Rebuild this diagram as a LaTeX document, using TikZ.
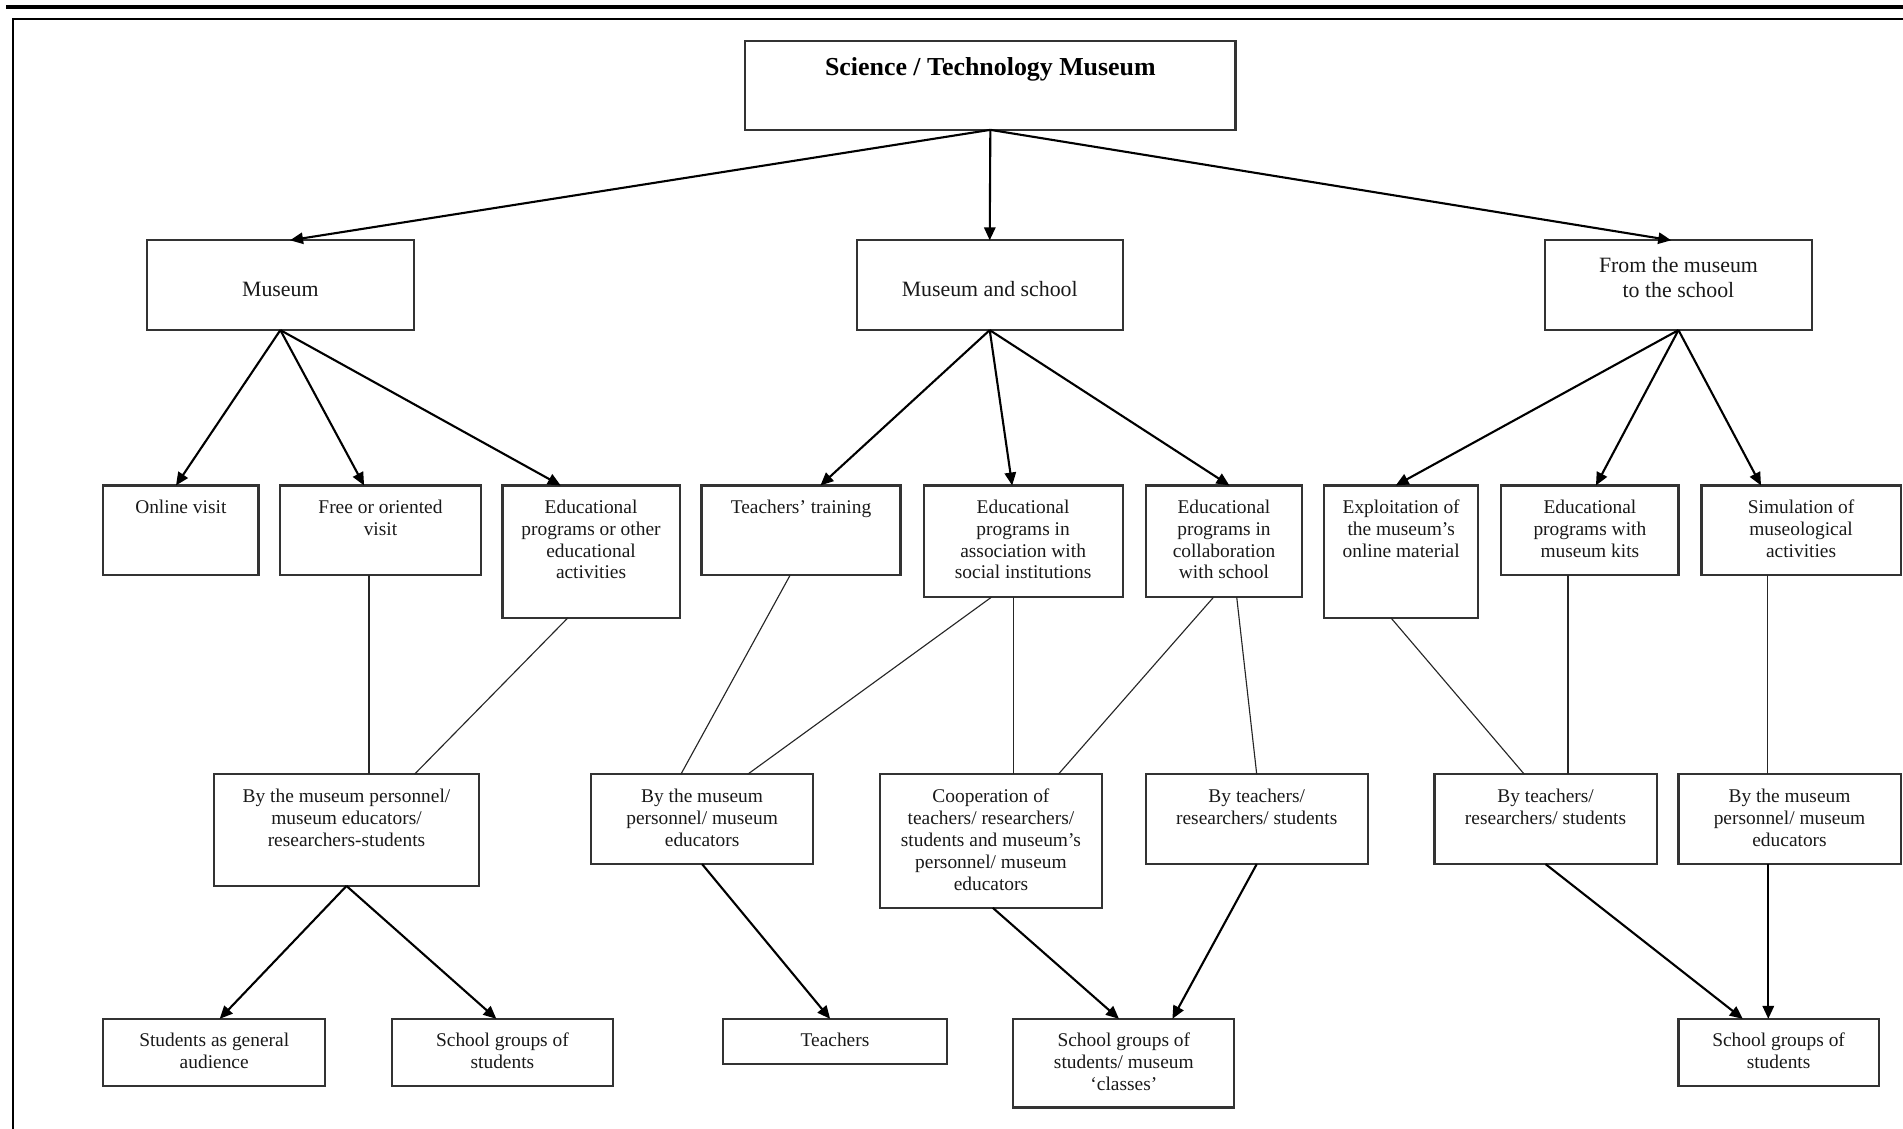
\documentclass[tikz,border=0pt]{standalone}
\usepackage{fontspec}
\setmainfont{Liberation Serif}
\usetikzlibrary{arrows.meta,calc}
\begin{document}
\begin{tikzpicture}[x=0.75pt,y=-0.75pt,
  box/.style={draw=black!80, line width=1.3pt, inner sep=0pt, outer sep=0pt, anchor=north west},
  sz/.style 2 args={minimum width=#1*0.75pt, minimum height=#2*0.75pt},
  lvA/.style={font=\fontsize{12}{13.5}\selectfont, align=center, inner sep=0pt, anchor=base, text=black!90},
  lvB/.style={font=\fontsize{13.5}{15.4}\selectfont, align=center, inner sep=0pt, anchor=base, text=black!90},
  ttl/.style={font=\fontsize{16}{19}\selectfont\bfseries, align=center, inner sep=0pt, anchor=base, text=black},
  arr/.style={draw=black, line width=1.3pt, -{Triangle[length=8pt,width=7pt]}},
  thin/.style={draw=black!85, line width=0.7pt}
]
\useasboundingbox (0,0) rectangle (1568,930);
% page frame
\draw[line width=2.4pt] (5,5.5) -- (1568,5.5);
\draw[line width=1.1pt] (10.7,930) -- (10.7,15.7) -- (1568,15.7);

% level 1
\node[box, sz={404}{73}] (top) at (614,34) {};
\node[ttl] (top-t) at ($(top.north)+(0,28)$) {Science / Technology Museum};

% level 2
\node[box, sz={220}{74}] (mus) at (121,198) {};
\node[lvB] (mus-t) at ($(mus.north)+(0,46)$) {Museum};
\node[box, sz={219}{74}] (mas) at (706,198) {};
\node[lvB] (mas-t) at ($(mas.north)+(0,46)$) {Museum and school};
\node[box, sz={220}{74}] (fro) at (1273,198) {};
\node[lvB] (fro-t) at ($(fro.north)+(0,47)$) {From the museum\\to the school};

% level 3
\node[box, sz={128}{74}] (online) at (85,400) {};
\node[lvA] (online-t) at ($(online.north)+(0,23)$) {Online visit};
\node[box, sz={165}{74}] (free) at (231,400) {};
\node[lvA] (free-t) at ($(free.north)+(0,41)$) {Free or oriented\\visit};
\node[box, sz={146}{109}] (eduo) at (414,400) {};
\node[lvA] (eduo-t) at ($(eduo.north)+(0,77)$) {Educational\\programs or other\\educational\\activities};
\node[box, sz={164}{74}] (teach) at (578,400) {};
\node[lvA] (teach-t) at ($(teach.north)+(0,23)$) {Teachers’ training};
\node[box, sz={164}{92}] (assoc) at (761,400) {};
\node[lvA] (assoc-t) at ($(assoc.north)+(0,77)$) {Educational\\programs in\\association with\\social institutions};
\node[box, sz={129}{92}] (collab) at (944,400) {};
\node[lvA] (collab-t) at ($(collab.north)+(0,77)$) {Educational\\programs in\\collaboration\\with school};
\node[box, sz={127}{109}] (exploit) at (1091,400) {};
\node[lvA] (exploit-t) at ($(exploit.north)+(0,59)$) {Exploitation of\\the museum’s\\online material};
\node[box, sz={146}{74}] (kits) at (1237,400) {};
\node[lvA] (kits-t) at ($(kits.north)+(0,59)$) {Educational\\programs with\\museum kits};
\node[box, sz={164}{74}] (sim) at (1402,400) {};
\node[lvA] (sim-t) at ($(sim.north)+(0,59)$) {Simulation of\\museological\\activities};

% level 4
\node[box, sz={219}{92}] (bml) at (176,638) {};
\node[lvA] (bml-t) at ($(bml.north)+(0,59.5)$) {By the museum personnel/\\museum educators/\\researchers-students};
\node[box, sz={183}{74}] (bmm) at (487,638) {};
\node[lvA] (bmm-t) at ($(bmm.north)+(0,59.5)$) {By the museum\\personnel/ museum\\educators};
\node[box, sz={183}{110}] (coop) at (725,638) {};
\node[lvA] (coop-t) at ($(coop.north)+(0,95.5)$) {Cooperation of\\teachers/ researchers/\\students and museum’s\\personnel/ museum\\educators};
\node[box, sz={183}{74}] (btm) at (944,638) {};
\node[lvA] (btm-t) at ($(btm.north)+(0,41.5)$) {By teachers/\\researchers/ students};
\node[box, sz={183}{74}] (btr) at (1182,638) {};
\node[lvA] (btr-t) at ($(btr.north)+(0,41.5)$) {By teachers/\\researchers/ students};
\node[box, sz={183}{74}] (bmr) at (1383,638) {};
\node[lvA] (bmr-t) at ($(bmr.north)+(0,59.5)$) {By the museum\\personnel/ museum\\educators};

% level 5
\node[box, sz={183}{55}] (sga) at (85,839.5) {};
\node[lvA] (sga-t) at ($(sga.north)+(0,41)$) {Students as general\\audience};
\node[box, sz={182}{55}] (sgl) at (323,839.5) {};
\node[lvA] (sgl-t) at ($(sgl.north)+(0,41)$) {School groups of\\students};
\node[box, sz={184}{37}] (tea) at (596,839.5) {};
\node[lvA] (tea-t) at ($(tea.north)+(0,23)$) {Teachers};
\node[box, sz={182}{73}] (sgm) at (835,839.5) {};
\node[lvA] (sgm-t) at ($(sgm.north)+(0,59)$) {School groups of\\students/ museum\\‘classes’};
\node[box, sz={165}{55}] (sgr) at (1383,839.5) {};
\node[lvA] (sgr-t) at ($(sgr.north)+(0,41)$) {School groups of\\students};

% arrows level 1 -> 2
\draw[arr] (top.south) -- ($(mus.north)+(8,0)$);
\draw[arr] (top.south) -- (mas.north);
\draw[arr] (top.south) -- ($(fro.north)+(-6,0)$);
% arrows level 2 -> 3
\draw[arr] (mus.south) -- ($(online.north)+(-4,0)$);
\draw[arr] (mus.south) -- ($(free.north)+(-13.5,0)$);
\draw[arr] (mus.south) -- ($(eduo.north)+(-25,0)$);
\draw[arr] (mas.south) -- ($(teach.north)+(16,0)$);
\draw[arr] (mas.south) -- ($(assoc.north)+(-9,0)$);
\draw[arr] (mas.south) -- ($(collab.north)+(4.5,0)$);
\draw[arr] (fro.south) -- ($(exploit.north)+(-4.5,0)$);
\draw[arr] (fro.south) -- ($(kits.north)+(5,0)$);
\draw[arr] (fro.south) -- ($(sim.north)+(-33,0)$);

% thin links level 3 -> 4
\draw[thin] ($(free.south)+(-9.5,0)$) -- ($(bml.north)+(18.5,0)$);
\draw[thin] ($(eduo.south)+(-19,0)$) -- ($(bml.north)+(56,0)$);
\draw[thin] ($(teach.south)+(-9,0)$) -- ($(bmm.north)+(-17.5,0)$);
\draw[thin] ($(assoc.south)+(-26,0)$) -- ($(bmm.north)+(37.5,0)$);
\draw[thin] ($(assoc.south)+(-8,0)$) -- ($(coop.north)+(18.5,0)$);
\draw[thin] ($(collab.south)+(-8.5,0)$) -- ($(coop.north)+(55.5,0)$);
\draw[thin] ($(collab.south)+(10.5,0)$) -- (btm.north);
\draw[thin] ($(exploit.south)+(-8.5,0)$) -- ($(btr.north)+(-17.5,0)$);
\draw[thin] ($(kits.south)+(-18,0)$) -- ($(btr.north)+(18.5,0)$);
\draw[thin] ($(sim.south)+(-27.5,0)$) -- ($(bmr.north)+(-18,0)$);

% arrows level 4 -> 5
\draw[arr] (bml.south) -- ($(sga.north)+(4.5,0)$);
\draw[arr] (bml.south) -- ($(sgl.north)+(-5,0)$);
\draw[arr] (bmm.south) -- ($(tea.north)+(-4,0)$);
\draw[arr] ($(coop.south)+(1.5,0)$) -- ($(sgm.north)+(-4,0)$);
\draw[arr] (btm.south) -- ($(sgm.north)+(40,0)$);
\draw[arr] (btr.south) -- ($(sgr.north)+(-29.5,0)$);
\draw[arr] ($(bmr.south)+(-17.5,0)$) -- ($(sgr.north)+(-8.5,0)$);
\end{tikzpicture}
\end{document}
